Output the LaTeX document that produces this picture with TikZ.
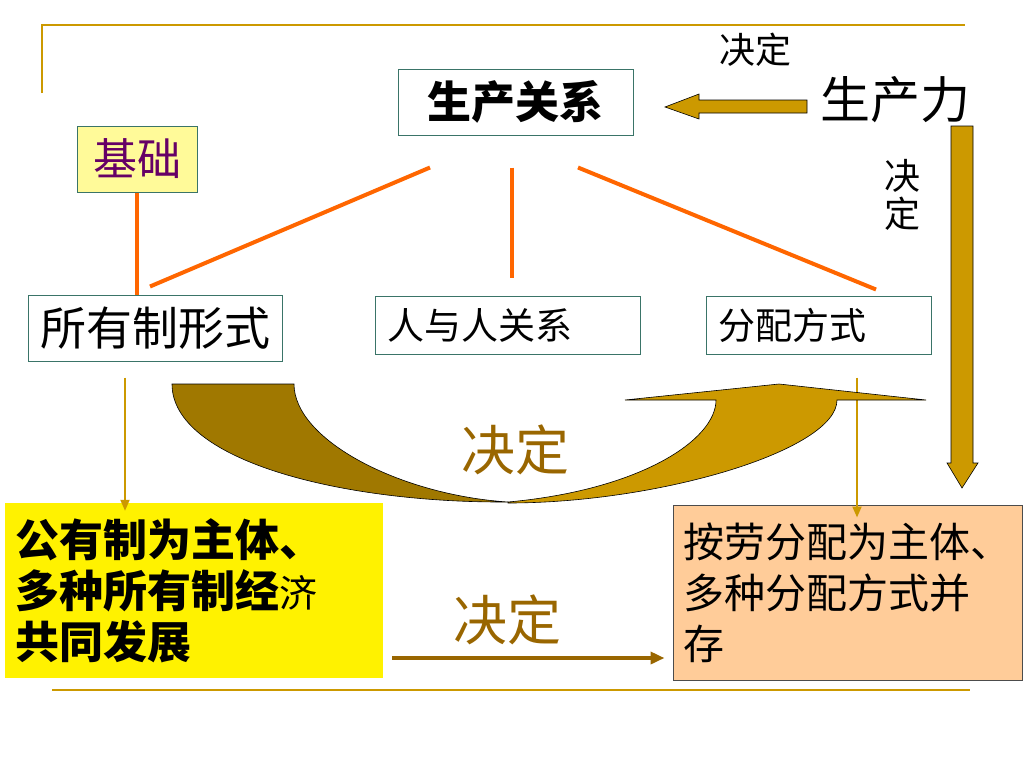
\documentclass[tikz,border=0pt]{standalone}
\usepackage{xcolor}
\definecolor{cc9900}{HTML}{CC9900}
\definecolor{a07800}{HTML}{A07800}
\definecolor{b07a00}{HTML}{996600}
\definecolor{ff6600}{HTML}{FF6600}
\definecolor{teal336}{HTML}{3A7468}
\usepackage{fontspec}
\setmainfont{Noto Sans CJK SC}
\usepackage{tikz}
\usetikzlibrary{arrows.meta}

\begin{document}
\begin{tikzpicture}[x=1pt, y=-1pt,
        box/.style={draw=teal336, line width=1pt, fill=white, inner sep=0pt},
        orange/.style={draw=ff6600, line width=4pt},
        thinarrow/.style={draw=cc9900, line width=2pt, -{Triangle[length=11pt, width=9pt]}},
        word/.style={inner sep=0pt, font=\fontsize{36}{40}\selectfont}]
            \useasboundingbox (0, 0) rectangle (1024, 768);

            \draw[cc9900, line width=2pt] (42, 93) -- (42, 25) -- (965, 25);
            \draw[cc9900, line width=2pt] (52, 690) -- (970, 690);

            \node[box, minimum width=235pt, minimum height=66pt, font=\bfseries\fontsize{44}{48}\selectfont] (gx) at (515.5, 102) {生产关系};
            \node[inner sep=0pt, font=\fontsize{50}{54}\selectfont] (scl) at (895, 100) {生产力};
            \node[word] (jd1) at (755, 50) {决定};
            \node[word, align=center, font=\fontsize{36}{38}\selectfont] (jd2) at (902, 195) {决\\定};

            \node[box, draw=teal336, fill=yellow!40, minimum width=120pt, minimum height=66pt, text=violet!80!black, font=\fontsize{44}{48}\selectfont] (jc) at (137, 159) {基础};
            \node[box, minimum width=254pt, minimum height=66pt, font=\fontsize{46}{50}\selectfont] (syz) at (155, 328) {所有制形式};
            \node[box, minimum height=58pt, text width=241pt, inner xsep=12pt, align=left, font=\fontsize{37}{40}\selectfont] (rr) at (507.5, 325) {人与人关系};
            \node[box, minimum height=58pt, text width=201pt, inner xsep=12pt, align=left, font=\fontsize{37}{40}\selectfont] (fp) at (818.5, 325) {分配方式};

            \node[fill=yellow, minimum width=378pt, minimum height=175pt, text width=358pt, inner xsep=10pt, inner ysep=4pt, align=left, font=\bfseries\fontsize{44}{51}\selectfont] (gy) at (194, 590.5)
                {公有制为主体、\\多种所有制经{\mdseries\fontsize{38}{51}\selectfont 济}\\共同发展};
            \node[draw=black!70, line width=1pt, fill=orange!40!white, minimum width=349pt, minimum height=175pt, text width=329pt, inner xsep=10pt, inner ysep=4pt, align=left, font=\fontsize{41}{51}\selectfont] (aw) at (847.5, 592.5)
                {按劳分配为主体、\\多种分配方式并\\存};

            % block arrows
            \draw[fill=cc9900, line width=.6pt] (807, 100) -- (699, 100) -- (699, 94) -- (665, 107) -- (699, 119) -- (699, 113) -- (807, 113) -- cycle;
            \draw[fill=cc9900, line width=.6pt] (951, 126) -- (973, 126) -- (973, 463) -- (978, 463) -- (962, 488) -- (947, 463) -- (951, 463) -- cycle;

            \draw[orange] (jc.south) -- (jc.south |- syz.north);
            \draw[orange] ([xshift=-85.5pt, yshift=-32pt]gx.south) -- ([xshift=-5pt, yshift=8pt]syz.north);
            \draw[orange] ([xshift=-3.5pt, yshift=-32pt]gx.south) -- ([xshift=4.5pt, yshift=18pt]rr.north);
            \draw[orange] ([xshift=62.5pt, yshift=-32pt]gx.south) -- ([xshift=57.5pt, yshift=6pt]fp.north);

            \draw[thinarrow, shorten >=8pt] ([xshift=-30pt, yshift=-16pt]syz.south) -- ([xshift=-30pt, yshift=-16pt]syz.south |- gy.north);
            \draw[thinarrow, shorten >=10pt] ([xshift=38.5pt, yshift=-23pt]fp.south) -- ([xshift=38.5pt, yshift=-23pt]fp.south |- aw.north);

            % curved arrow
            \draw[fill=a07800, line width=.6pt] (172, 384) -- (294, 384)
                .. controls (294, 440) and (400, 495) .. (508, 502)
                .. controls (340, 503) and (172, 460) .. (172, 384) -- cycle;
            \draw[fill=cc9900, line width=.6pt] (508, 503)
                .. controls (660, 503) and (837, 450) .. (837, 400)
                -- (926, 400) -- (779, 384) -- (625, 400) -- (716, 400)
                .. controls (716, 440) and (640, 490) .. (508, 502) -- cycle;
            \node[word, text=b07a00, font=\fontsize{54}{58}\selectfont] (jd3) at (515, 450) {决定};

            \node[word, text=b07a00, font=\fontsize{54}{58}\selectfont] (jd4) at (507, 620) {决定};
            \draw[b07a00, line width=4pt, -{Triangle[length=14pt, width=12pt]}, shorten <=9pt, shorten >=8pt] ([yshift=-67.5pt]gy.east) -- ([yshift=-67.5pt]gy.east -| aw.west);
        \end{tikzpicture}
\end{document}
